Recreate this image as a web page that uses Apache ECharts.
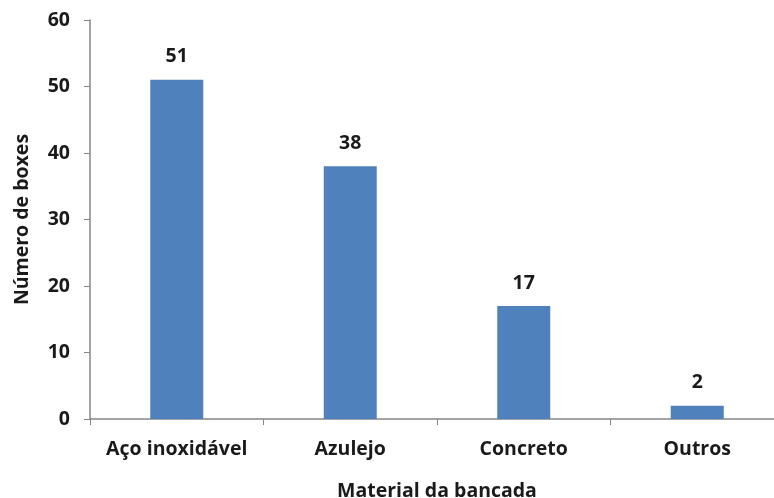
<!DOCTYPE html>
<html>
<head>
<meta charset="utf-8">
<script src="https://cdn.jsdelivr.net/npm/echarts@6/dist/echarts.min.js"></script>
<style>
  html, body { margin: 0; padding: 0; background: #fff; }
  #chart { width: 774px; height: 498px; }
</style>
</head>
<body>
<div id="chart"></div>
<script>
var categories = ['Aço inoxidável', 'Azulejo', 'Concreto', 'Outros'];
var values = [51, 38, 17, 2];
var yTicks = [0, 10, 20, 30, 40, 50, 60];

var font = '"Open Sans", "Liberation Sans", sans-serif';
var axisColor = '#868686';

var chart = echarts.init(document.getElementById('chart'));
var option = {
  animation: false,
  grid: { left: 90, top: 20, width: 694, height: 399, outerBoundsMode: 'none', containLabel: false },
  xAxis: {
    type: 'category',
    data: categories,
    name: 'Material da bancada',
    nameLocation: 'middle',
    nameGap: 62,
    nameTextStyle: { color: '#1a1a1a', fontWeight: 'bold', fontSize: 19.5, fontFamily: font },
    axisLine: { lineStyle: { color: axisColor, width: 1.5 } },
    axisTick: { show: true, interval: 0, alignWithLabel: false, length: 6, lineStyle: { color: axisColor } },
    axisLabel: { interval: 0, hideOverlap: false, color: '#1a1a1a', fontWeight: 'bold', fontSize: 19.5, fontFamily: font, margin: 20 }
  },
  yAxis: {
    type: 'value',
    min: yTicks[0],
    max: yTicks[yTicks.length - 1],
    interval: 10,
    name: 'Número de boxes',
    nameLocation: 'middle',
    nameGap: 58,
    nameTextStyle: { color: '#1a1a1a', fontWeight: 'bold', fontSize: 19.5, fontFamily: font },
    axisLine: { show: true, lineStyle: { color: axisColor, width: 1.5 } },
    axisTick: { show: true, length: 6, lineStyle: { color: axisColor } },
    splitLine: { show: false },
    axisLabel: { color: '#1a1a1a', fontWeight: 'bold', fontSize: 19.5, fontFamily: font, margin: 20 }
  },
  series: [{
    type: 'bar',
    data: values,
    barWidth: 53,
    itemStyle: { color: '#4f81bd' },
    label: {
      show: true,
      position: 'top',
      distance: 13,
      color: '#1a1a1a',
      fontWeight: 'bold',
      fontSize: 19.5,
      fontFamily: font
    }
  }]
};
chart.setOption(option);
</script>
</body>
</html>
